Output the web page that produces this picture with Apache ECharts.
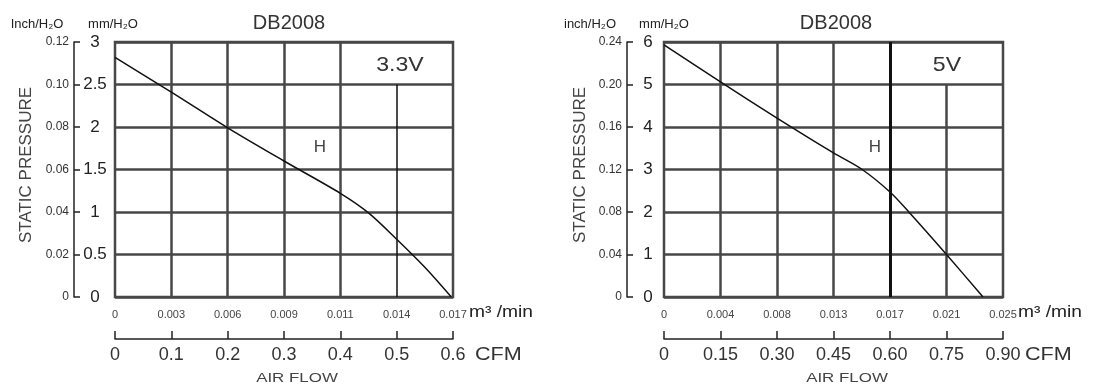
<!DOCTYPE html>
<html><head><meta charset="utf-8">
<script src="https://cdn.jsdelivr.net/npm/echarts@6/dist/echarts.min.js"></script>
<style>html,body{margin:0;padding:0;background:#fff}#c{width:1096px;height:385px}</style>
</head><body><div id="c"></div>
<script>
// ---- data: 3.3V panel ----
const cfm33 = [0, 0.1, 0.2, 0.3, 0.4, 0.45, 0.5, 0.55, 0.597];
const mm33  = [2.82, 2.41, 1.99, 1.6, 1.22, 0.99, 0.68, 0.35, 0];
const cfmLabels33 = ['0', '0.1', '0.2', '0.3', '0.4', '0.5', '0.6'];
const m3Labels33 = ['0', '0.003', '0.006', '0.009', '0.011', '0.014', '0.017'];
const mmLabels33 = ['0', '0.5', '1', '1.5', '2', '2.5', '3'];
const inchLabels33 = ['0', '0.02', '0.04', '0.06', '0.08', '0.10', '0.12'];

// ---- data: 5V panel ----
const cfm5 = [0, 0.15, 0.3, 0.45, 0.526, 0.6, 0.65, 0.75, 0.847];
const mm5  = [5.93, 5.06, 4.21, 3.39, 3.0, 2.47, 2.0, 1.0, 0];
const cfmLabels5 = ['0', '0.15', '0.30', '0.45', '0.60', '0.75', '0.90'];
const m3Labels5 = ['0', '0.004', '0.008', '0.013', '0.017', '0.021', '0.025'];
const mmLabels5 = ['0', '1', '2', '3', '4', '5', '6'];
const inchLabels5 = ['0', '0.04', '0.08', '0.12', '0.16', '0.20', '0.24'];

const FONT = '"Liberation Sans", Arial, sans-serif';
const GRIDC = '#474747';

const panels = [
  {left:115, right:643, axisOff:41, xMax:0.6, xInt:0.1, yMax:3, yInt:0.5,
   cfm:cfm33, mm:mm33, cfmL:cfmLabels33, m3L:m3Labels33, mmL:mmLabels33, inL:inchLabels33,
   shortIdx:5, shortTop:2.5, shortStyle:{color:'#111', width:1.5}, boldIdx:-1},
  {left:664, right:93, axisOff:37, xMax:0.9, xInt:0.15, yMax:6, yInt:1,
   cfm:cfm5, mm:mm5, cfmL:cfmLabels5, m3L:m3Labels5, mmL:mmLabels5, inL:inchLabels5,
   shortIdx:5, shortTop:5, shortStyle:{color:GRIDC, width:2.5}, boldIdx:4}
];

const grid = [], xAxis = [], yAxis = [], series = [];
panels.forEach((p, i) => {
  grid.push({left:p.left, right:p.right, top:42, bottom:88, show:true,
    borderColor:GRIDC, borderWidth:2.5, backgroundColor:'transparent'});
  const idx = v => Math.round(v / p.xInt);
  const idy = v => Math.round(v / p.yInt);
  xAxis.push({gridIndex:i, type:'value', min:0, max:p.xMax, interval:p.xInt, position:'bottom', offset:42,
    axisLine:{show:true, onZero:false, lineStyle:{color:'#222', width:1.5}},
    axisTick:{show:true, inside:true, length:8, lineStyle:{color:'#222', width:1.5}},
    axisLabel:{fontSize:18, color:'#333', margin:7, fontFamily:FONT, formatter:v => p.cfmL[idx(v)]},
    splitLine:{show:false}});
  xAxis.push({gridIndex:i, type:'value', min:0, max:p.xMax, interval:p.xInt, position:'bottom', offset:0,
    axisLine:{show:false, onZero:false}, axisTick:{show:false},
    axisLabel:{fontSize:11, color:'#444', margin:12, fontFamily:FONT, formatter:v => p.m3L[idx(v)]},
    splitLine:{show:false}});
  yAxis.push({gridIndex:i, type:'value', min:0, max:p.yMax, interval:p.yInt, position:'left', offset:p.axisOff,
    axisLine:{show:true, onZero:false, lineStyle:{color:'#222', width:1.5}},
    axisTick:{show:true, inside:true, length:6, lineStyle:{color:'#222', width:1.5}},
    axisLabel:{inside:true, margin:21, align:'center', fontSize:17, color:'#222', fontFamily:FONT,
      formatter:v => p.mmL[idy(v)]},
    splitLine:{show:true, lineStyle:{color:GRIDC, width:2.5}}});
  yAxis.push({gridIndex:i, type:'value', min:0, max:p.yMax, interval:p.yInt, position:'left', offset:p.axisOff,
    axisLine:{show:false, onZero:false}, axisTick:{show:false},
    axisLabel:{fontSize:12, color:'#333', margin:5, fontFamily:FONT, formatter:v => p.inL[idy(v)]},
    splitLine:{show:false}});

  const verts = [];
  const n = p.cfmL.length - 1;
  for (let k = 1; k < n; k++) {
    const x = k * p.xInt;
    let top = p.yMax, style = {color:GRIDC, width:2.5};
    if (k === p.shortIdx) { top = p.shortTop; style = p.shortStyle; }
    if (k === p.boldIdx) { style = {color:'#111', width:3}; }
    verts.push([{coord:[x, 0], lineStyle:Object.assign({type:'solid'}, style)}, {coord:[x, top]}]);
  }
  series.push({type:'line', xAxisIndex:2*i, yAxisIndex:2*i, data:[], z:2,
    markLine:{silent:true, symbol:['none','none'], animation:false, label:{show:false},
      emphasis:{disabled:true}, data:verts}});
  series.push({type:'line', xAxisIndex:2*i, yAxisIndex:2*i, z:5, smooth:0.3, symbol:'none',
    lineStyle:{color:'#111', width:1.5}, data:p.cfm.map((c, j) => [c, p.mm[j]])});
});

function txt(x, y, s, size, color, extra, align) {
  return Object.assign({type:'text', x:x, y:y, silent:true,
    style:{text:s, fill:color, font:size + 'px ' + FONT, align:align || 'center', verticalAlign:'middle',
      textAlign:align || 'center', textVerticalAlign:'middle'}}, extra || {});
}

const graphic = [
  txt(289, 23, 'DB2008', 20, '#333'),
  txt(836, 23, 'DB2008', 20, '#333'),
  txt(37, 24, 'Inch/H₂O', 13, '#222'),
  txt(113, 24, 'mm/H₂O', 13, '#222'),
  txt(590, 24, 'inch/H₂O', 13, '#222'),
  txt(664, 24, 'mm/H₂O', 13, '#222'),
  txt(400, 65, '3.3V', 21, '#333', {scaleX:1.1}),
  txt(947, 65, '5V', 21, '#333', {scaleX:1.1}),
  txt(320, 147, 'H', 17, '#444'),
  txt(875, 147, 'H', 17, '#444'),
  txt(469, 313, 'm³ /min', 16, '#222', {scaleX:1.2}, 'left'),
  txt(1018, 313, 'm³ /min', 16, '#222', {scaleX:1.2}, 'left'),
  txt(475, 355, 'CFM', 18, '#333', {scaleX:1.2}, 'left'),
  txt(1025, 355, 'CFM', 18, '#333', {scaleX:1.2}, 'left'),
  txt(297, 378, 'AIR FLOW', 13, '#444', {scaleX:1.3}),
  txt(847, 378, 'AIR FLOW', 13, '#444', {scaleX:1.3}),
  txt(26, 165, 'STATIC PRESSURE', 17, '#444', {rotation:Math.PI/2}),
  txt(580, 165, 'STATIC PRESSURE', 17, '#444', {rotation:Math.PI/2})
];

const chart = echarts.init(document.getElementById('c'), null, {renderer:'canvas'});
chart.setOption({backgroundColor:'#fff', animation:false, grid, xAxis, yAxis, series, graphic});
</script>
</body></html>
